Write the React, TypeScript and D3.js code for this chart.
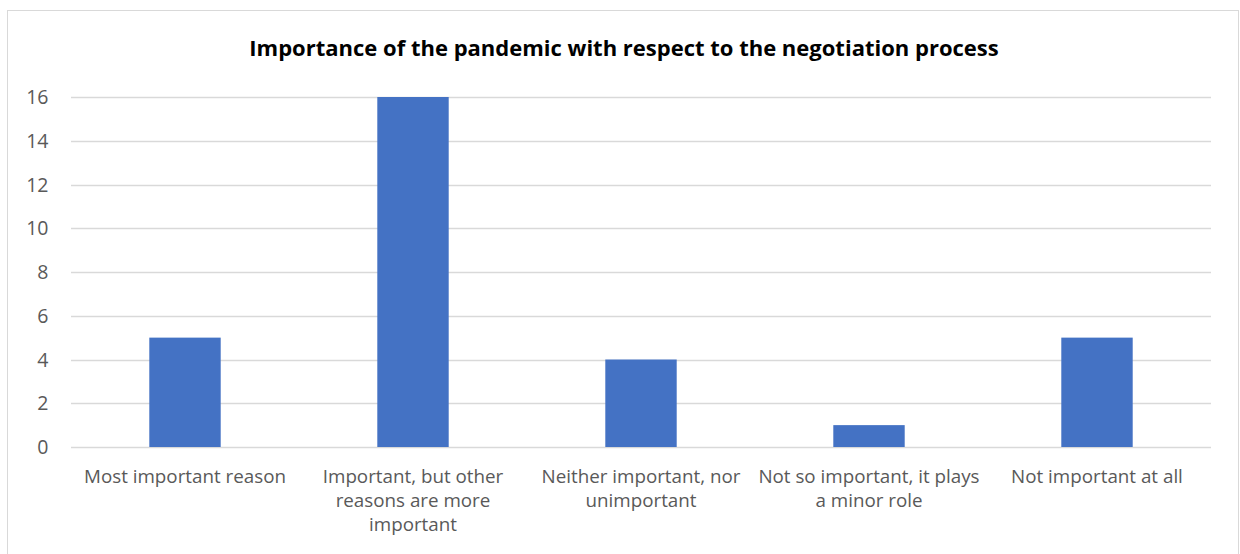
import React, { useEffect, useRef } from "react";
import * as d3 from "d3";

const categories: string[][] = [
  ["Most important reason"],
  ["Important, but other", "reasons are more", "important"],
  ["Neither important, nor", "unimportant"],
  ["Not so important, it plays", "a minor role"],
  ["Not important at all"],
];
const counts: number[] = [5, 16, 4, 1, 5];
const yTicks: number[] = [0, 2, 4, 6, 8, 10, 12, 14, 16];
const title = "Importance of the pandemic with respect to the negotiation process";

const W = 1240;
const H = 554;
const FONT = "'Open Sans', sans-serif";

export default function App() {
  const ref = useRef<SVGSVGElement | null>(null);

  useEffect(() => {
    const svg = d3.select(ref.current);
    svg.selectAll("*").remove();

    const left = 71, right = 1211, top = 97, bottom = 447;

    // chart frame
    svg.append("rect")
      .attr("x", 7.5).attr("y", 10.5)
      .attr("width", 1231).attr("height", 600)
      .attr("fill", "#fff").attr("stroke", "#d9d9d9").attr("stroke-width", 1);

    svg.append("text")
      .attr("x", 624).attr("y", 56)
      .attr("text-anchor", "middle")
      .attr("font-family", FONT).attr("font-size", 22).attr("font-weight", 700)
      .attr("fill", "#000")
      .text(title);

    const x = d3.scaleBand<number>()
      .domain(counts.map((_, i) => i))
      .range([left, right])
      .paddingInner(0.6868).paddingOuter(0.3434);

    const y = d3.scaleLinear().domain([0, 16]).range([bottom, top]);

    const grid = svg.append("g");
    grid.selectAll("line").data(yTicks).join("line")
      .attr("x1", left).attr("x2", right)
      .attr("y1", (d) => Math.round(y(d)) + 0.5).attr("y2", (d) => Math.round(y(d)) + 0.5)
      .attr("stroke", "#d9d9d9").attr("stroke-width", 1.3);

    svg.append("g").selectAll("text").data(yTicks).join("text")
      .attr("x", 48.5).attr("y", (d) => y(d) + 7)
      .attr("text-anchor", "end")
      .attr("font-family", FONT).attr("font-size", 19.5).attr("fill", "#595959")
      .text((d) => String(d));

    svg.append("g").selectAll("rect").data(counts).join("rect")
      .attr("x", (_, i) => x(i)!)
      .attr("y", (d) => y(d))
      .attr("width", x.bandwidth())
      .attr("height", (d) => y(0) - y(d))
      .attr("fill", "#4472c4");

    const step = (right - left) / counts.length;
    const labels = svg.append("g");
    categories.forEach((lines, i) => {
      const cx = left + step * (i + 0.5);
      const t = labels.append("text")
        .attr("text-anchor", "middle")
        .attr("font-family", FONT).attr("font-size", 18.8).attr("fill", "#595959");
      lines.forEach((ln, j) => {
        t.append("tspan").attr("x", cx).attr("y", 483 + j * 24).text(ln);
      });
    });
  }, []);

  return (
    <svg
      ref={ref}
      width={W}
      height={H}
      style={{ position: "absolute", left: 0, top: 0, background: "#fff" }}
    />
  );
}
